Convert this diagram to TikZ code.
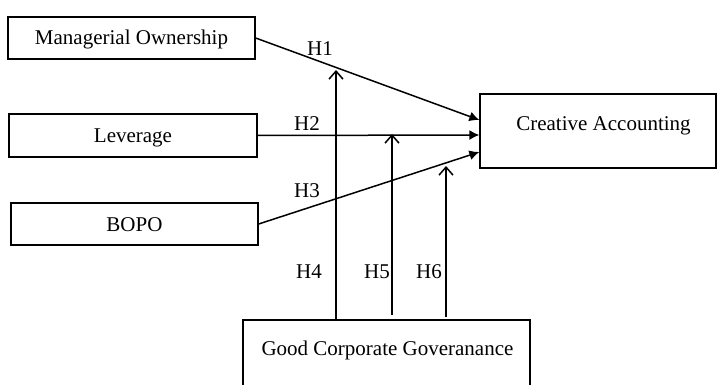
\documentclass[tikz,border=0pt]{standalone}
\usepackage{fontspec}
\setmainfont{Liberation Serif}
\usetikzlibrary{arrows.meta}
\begin{document}
\begin{tikzpicture}[x=1pt,y=-1pt,
  box/.style={draw, line width=1.3pt, inner sep=0pt, text height=16pt, text depth=2pt, font=\fontsize{21}{25}\selectfont},
  lbl/.style={inner sep=0pt, font=\fontsize{21}{25}\selectfont},
  link/.style={line width=1.5pt, -{Latex[length=10pt,width=10pt]}},
  mod/.style={line width=1.5pt, -{Straight Barb[length=8pt,width=14pt,line width=1.5pt]}}]
\useasboundingbox (0,0) rectangle (718,385);
\clip (0,0) rectangle (718,385);
% boxes
\node[box, minimum width=247pt, minimum height=42pt] (mo) at (131.5,38) {Managerial Ownership};
\node[box, minimum width=248pt, minimum height=43pt] (lev) at (133,135.5) {Leverage};
\node[box, minimum width=247pt, minimum height=42pt] (bopo) at (134.5,224) {BOPO};
\node[box, minimum width=236pt, minimum height=74pt] (ca) at (598,131) {};
\node[lbl, anchor=base] (catext) at (603.5,131) {Creative Accounting};
\node[box, minimum width=287pt, minimum height=80pt] (gcg) at (386.5,360) {};
\node[lbl, anchor=base] (gcgtext) at (387.5,355) {Good Corporate Goveranance};
% direct paths
\draw[link] (mo.east) -- ([yshift=11pt]ca.west);
\draw[link] (lev.east) -- ([yshift=-4pt]ca.west);
\draw[link] (bopo.east) -- ([yshift=-21pt]ca.west);
% moderating paths
\coordinate (t4) at (336,70);
\coordinate (t5) at (392,134);
\coordinate (t6) at (446,166);
\coordinate (b5) at (392,315);
\coordinate (b6) at (446,317);
\draw[mod] (gcg.north -| t4) -- (t4);
\draw[mod] (b5) -- (t5);
\draw[mod] (b6) -- (t6);
% labels
\node[lbl] (h1) at (320,49) {H1};
\node[lbl] (h2) at (307,124) {H2};
\node[lbl] (h3) at (307,191) {H3};
\node[lbl] (h4) at (309,272) {H4};
\node[lbl] (h5) at (377,272) {H5};
\node[lbl] (h6) at (429,272) {H6};
\end{tikzpicture}
\end{document}
